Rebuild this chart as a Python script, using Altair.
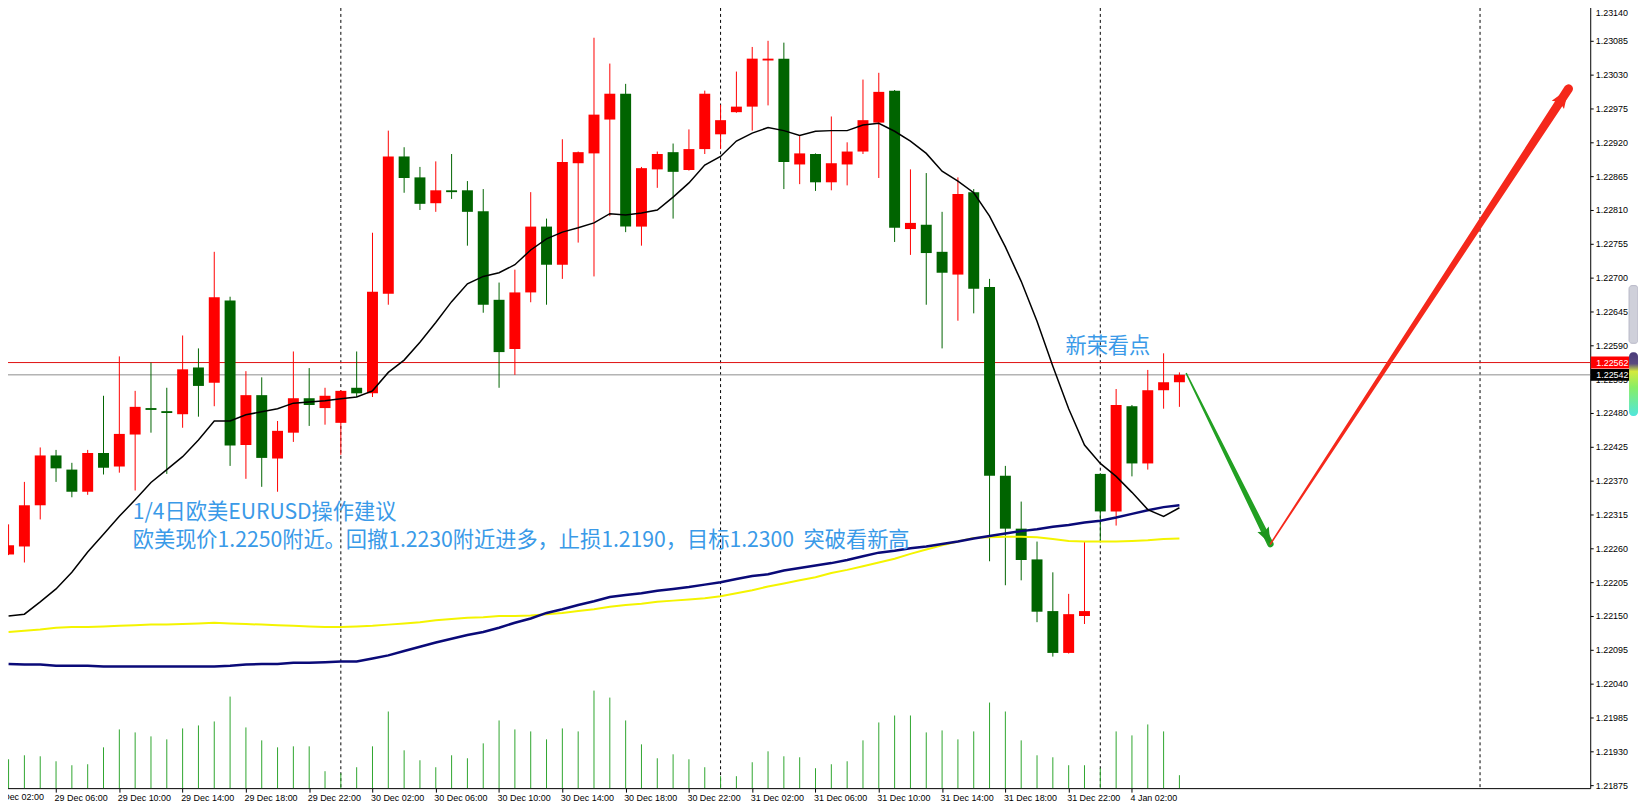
import json
import altair as alt
import pandas as pd

# ---------------- data (bar 0 = 29 Dec 03:00, hourly; bar 69 = 4 Jan 00:00) ----------------
bars = list(range(75))
opens = [1.22250, 1.22263, 1.22330, 1.22411, 1.22388, 1.22352, 1.22415, 1.22393, 1.22445, 1.22488,
         1.22483, 1.22478, 1.22554, 1.22529, 1.22663, 1.22428, 1.22509, 1.22406, 1.22448, 1.22504,
         1.22488, 1.22464, 1.22521, 1.22512, 1.22674, 1.22897, 1.22863, 1.22821, 1.22842, 1.22842,
         1.22808, 1.22664, 1.22584, 1.22676, 1.22783, 1.22721, 1.22886, 1.22902, 1.22957, 1.22999,
         1.22783, 1.22876, 1.22904, 1.22875, 1.22909, 1.22933, 1.22969, 1.22978, 1.23053, 1.23056,
         1.22884, 1.22901, 1.22855, 1.22884, 1.22905, 1.22952, 1.23004, 1.22779, 1.22786, 1.22742,
         1.22705, 1.22839, 1.22685, 1.22378, 1.22292, 1.22242, 1.22158, 1.22090, 1.22150, 1.22381,
         1.22320, 1.22491, 1.22398, 1.22517, 1.22530]
highs = [1.22299, 1.22368, 1.22424, 1.22420, 1.22399, 1.22420, 1.22508, 1.22572, 1.22516, 1.22562,
         1.22521, 1.22606, 1.22585, 1.22742, 1.22669, 1.22548, 1.22538, 1.22467, 1.22580, 1.22553,
         1.22521, 1.22517, 1.22580, 1.22773, 1.22939, 1.22912, 1.22880, 1.22889, 1.22901, 1.22857,
         1.22844, 1.22692, 1.22713, 1.22839, 1.22796, 1.22925, 1.22905, 1.23090, 1.23048, 1.23015,
         1.22880, 1.22905, 1.22918, 1.22941, 1.23004, 1.22981, 1.23035, 1.23075, 1.23085, 1.23082,
         1.22930, 1.22902, 1.22962, 1.22920, 1.23022, 1.23033, 1.23005, 1.22876, 1.22870, 1.22807,
         1.22863, 1.22844, 1.22698, 1.22394, 1.22336, 1.22271, 1.22221, 1.22186, 1.22271, 1.22382,
         1.22519, 1.22493, 1.22550, 1.22577, 1.22546]
lows = [1.22249, 1.22237, 1.22307, 1.22368, 1.22343, 1.22347, 1.22380, 1.22383, 1.22354, 1.22448,
        1.22381, 1.22456, 1.22474, 1.22491, 1.22394, 1.22373, 1.22360, 1.22352, 1.22433, 1.22459,
        1.22461, 1.22412, 1.22506, 1.22506, 1.22656, 1.22838, 1.22810, 1.22807, 1.22828, 1.22752,
        1.22643, 1.22521, 1.22542, 1.22660, 1.22656, 1.22698, 1.22757, 1.22702, 1.22800, 1.22774,
        1.22752, 1.22846, 1.22796, 1.22874, 1.22901, 1.22909, 1.22968, 1.22939, 1.22980, 1.22844,
        1.22852, 1.22841, 1.22842, 1.22850, 1.22901, 1.22862, 1.22758, 1.22737, 1.22656, 1.22585,
        1.22630, 1.22642, 1.22239, 1.22200, 1.22208, 1.22140, 1.22084, 1.22089, 1.22137, 1.22270,
        1.22297, 1.22377, 1.22388, 1.22487, 1.22490]
closes = [1.22265, 1.22330, 1.22411, 1.22390, 1.22352, 1.22415, 1.22391, 1.22446, 1.22490, 1.22485,
          1.22480, 1.22551, 1.22524, 1.22668, 1.22427, 1.22509, 1.22407, 1.22451, 1.22504, 1.22493,
          1.22508, 1.22516, 1.22512, 1.22677, 1.22897, 1.22862, 1.22820, 1.22842, 1.22839, 1.22807,
          1.22656, 1.22579, 1.22676, 1.22783, 1.22721, 1.22888, 1.22904, 1.22965, 1.22999, 1.22783,
          1.22878, 1.22901, 1.22872, 1.22909, 1.22999, 1.22956, 1.22978, 1.23056, 1.23056, 1.22888,
          1.22902, 1.22855, 1.22886, 1.22905, 1.22956, 1.23002, 1.22781, 1.22789, 1.22740, 1.22708,
          1.22836, 1.22682, 1.22378, 1.22292, 1.22241, 1.22157, 1.22090, 1.22153, 1.22158, 1.22320,
          1.22493, 1.22398, 1.22517, 1.22530, 1.22542]
volumes = [725, 825, 800, 675, 575, 600, 1025, 1475, 1400, 1300,
           1225, 1500, 1575, 1675, 2300, 1525, 1200, 1025, 1050, 1050,
           425, 375, 525, 1050, 1925, 950, 700, 525, 825, 750,
           1125, 1700, 1475, 1425, 1225, 1500, 1425, 2450, 2275, 1700,
           1100, 750, 850, 725, 525, 300, 300, 650, 925, 800,
           775, 500, 600, 675, 1200, 1650, 1825, 1825, 1400, 1450,
           1225, 1425, 2150, 1925, 1200, 825, 775, 575, 575, 500,
           1425, 1325, 1600, 1425, 325]
ma_fast = [1.22150, 1.22153, 1.22173, 1.22194, 1.22221, 1.22254, 1.22283, 1.22312, 1.22339, 1.22367,
           1.22388, 1.22409, 1.22436, 1.22467, 1.22467, 1.22477, 1.22482, 1.22487, 1.22496, 1.22498,
           1.22500, 1.22503, 1.22506, 1.22516, 1.22546, 1.22566, 1.22595, 1.22627, 1.22661, 1.22690,
           1.22702, 1.22708, 1.22721, 1.22745, 1.22763, 1.22774, 1.22781, 1.22789, 1.22804, 1.22802,
           1.22805, 1.22810, 1.22831, 1.22854, 1.22883, 1.22897, 1.22922, 1.22935, 1.22944, 1.22939,
           1.22931, 1.22938, 1.22939, 1.22939, 1.22948, 1.22951, 1.22938, 1.22922, 1.22902, 1.22873,
           1.22857, 1.22838, 1.22800, 1.22750, 1.22694, 1.22629, 1.22556, 1.22487, 1.22428, 1.22398,
           1.22377, 1.22351, 1.22323, 1.22312, 1.22326]
ma_navy = [1.22072, 1.22071, 1.22071, 1.22069, 1.22069, 1.22069, 1.22068, 1.22068, 1.22068, 1.22068,
           1.22068, 1.22068, 1.22068, 1.22068, 1.22069, 1.22071, 1.22072, 1.22072, 1.22074, 1.22074,
           1.22075, 1.22076, 1.22076, 1.22081, 1.22086, 1.22093, 1.22100, 1.22107, 1.22113, 1.22119,
           1.22124, 1.22131, 1.22139, 1.22146, 1.22155, 1.22161, 1.22168, 1.22174, 1.22181, 1.22184,
           1.22187, 1.22191, 1.22194, 1.22197, 1.22201, 1.22205, 1.22210, 1.22215, 1.22218, 1.22224,
           1.22228, 1.22232, 1.22236, 1.22241, 1.22247, 1.22253, 1.22256, 1.22260, 1.22263, 1.22267,
           1.22271, 1.22276, 1.22280, 1.22284, 1.22288, 1.22291, 1.22295, 1.22298, 1.22302, 1.22305,
           1.22310, 1.22316, 1.22322, 1.22327, 1.22330]
ma_yellow = [1.22124, 1.22126, 1.22128, 1.22131, 1.22132, 1.22132, 1.22133, 1.22134, 1.22135, 1.22136,
             1.22136, 1.22137, 1.22138, 1.22139, 1.22138, 1.22137, 1.22136, 1.22135, 1.22134, 1.22133,
             1.22132, 1.22132, 1.22133, 1.22134, 1.22136, 1.22138, 1.22140, 1.22143, 1.22145, 1.22147,
             1.22148, 1.22150, 1.22150, 1.22151, 1.22153, 1.22155, 1.22158, 1.22161, 1.22165, 1.22168,
             1.22170, 1.22173, 1.22175, 1.22177, 1.22179, 1.22182, 1.22187, 1.22192, 1.22198, 1.22203,
             1.22208, 1.22213, 1.22220, 1.22225, 1.22231, 1.22237, 1.22243, 1.22251, 1.22258, 1.22265,
             1.22271, 1.22277, 1.22278, 1.22279, 1.22279, 1.22278, 1.22275, 1.22272, 1.22271, 1.22271,
             1.22271, 1.22272, 1.22273, 1.22275, 1.22276]

time_label_bars = [-1, 3, 7, 11, 15, 19, 23, 27, 31, 35, 39, 43, 47, 51, 55, 59, 63, 67, 71]
time_labels = ["29 Dec 02:00", "29 Dec 06:00", "29 Dec 10:00", "29 Dec 14:00", "29 Dec 18:00",
               "29 Dec 22:00", "30 Dec 02:00", "30 Dec 06:00", "30 Dec 10:00", "30 Dec 14:00",
               "30 Dec 18:00", "30 Dec 22:00", "31 Dec 02:00", "31 Dec 06:00", "31 Dec 10:00",
               "31 Dec 14:00", "31 Dec 18:00", "31 Dec 22:00", "4 Jan 02:00"]
day_separator_bars = [21, 45, 69, 93]
price_ticks = [1.21875, 1.21930, 1.21985, 1.22040, 1.22095, 1.22150, 1.22205, 1.22260, 1.22315,
               1.22370, 1.22425, 1.22480, 1.22535, 1.22590, 1.22645, 1.22700, 1.22755, 1.22810,
               1.22865, 1.22920, 1.22975, 1.23030, 1.23085, 1.23140]
ask_price = 1.22562
bid_price = 1.22542

green_arrow_bars = [74.44, 79.75]
green_arrow_prices = [1.22544, 1.22267]
red_arrow_bars = [79.75, 98.59]
red_arrow_prices = [1.22267, 1.23007]

notes = ["1/4日欧美EURUSD操作建议",
         "欧美现价1.2250附近。回撤1.2230附近进多，止损1.2190，目标1.2300\u00a0\u00a0突破看新高",
         "新荣看点"]
note_bars = [7.85, 7.85, 66.8]
note_prices = [1.22317, 1.22272, 1.22587]

# ---------------- tables ----------------
df = pd.DataFrame({"i": bars, "open": opens, "high": highs, "low": lows, "close": closes,
                   "vol": volumes, "ma_fast": ma_fast, "ma_navy": ma_navy, "ma_yellow": ma_yellow})
df["dir"] = ["up" if c >= o else "down" for o, c in zip(opens, closes)]
sep_df = pd.DataFrame({"i": day_separator_bars})
lines_df = pd.DataFrame({"p": [ask_price, bid_price], "kind": ["ask", "bid"]})
green_df = pd.DataFrame({"i": green_arrow_bars, "p": green_arrow_prices, "t": [0, 1]})
red_df = pd.DataFrame({"i": red_arrow_bars, "p": red_arrow_prices, "t": [0, 1]})
notes_df = pd.DataFrame({"i": note_bars, "p": note_prices, "text": notes})
first_label_df = pd.DataFrame({"i": time_label_bars[:1], "text": time_labels[:1]})

W, H = 1598, 790
AXFONT = "Liberation Sans"
xs = alt.Scale(domain=[-0.225, 99.65], nice=False, zero=False)
PDOM = [1.218702, 1.231481]

label_expr = json.dumps(time_labels) + "[(datum.value + 1) / 4]"
x_axis = alt.Axis(values=time_label_bars, labelExpr=label_expr, labelAlign="left",
                  labelBaseline="top", labelFlush=False, labelOverlap=False, labelBound=False,
                  tickSize=4, labelPadding=1, labelOffset=-2, labelFont=AXFONT, labelFontSize=9,
                  labelColor="black", tickColor="black", domainColor="black", grid=False,
                  title=None)
y_axis = alt.Axis(orient="right", values=price_ticks, format=".5f", labelFont=AXFONT,
                  labelFontSize=9, labelColor="black", tickColor="black", domainColor="black",
                  tickSize=3, labelPadding=2, grid=False, title=None, labelOverlap=False,
                  labelFlush=False,
                  labelBaseline={"condition": {"test": "datum.value > 1.2313", "value": "top"},
                                 "value": "middle"},
                  labelOffset={"condition": {"test": "datum.value > 1.2313", "value": 2},
                               "value": 0})


def X(field="i"):
    return alt.X(field, type="quantitative", scale=xs, axis=x_axis)


def Y(field, axis=None):
    return alt.Y(field, type="quantitative",
                 scale=alt.Scale(domain=PDOM, nice=False, zero=False), axis=axis)


dircolor = alt.Color("dir:N", scale=alt.Scale(domain=["up", "down"], range=["#ff0000", "#006400"]),
                     legend=None)

sep = alt.Chart(sep_df).mark_rule(color="black", strokeDash=[3, 3], strokeWidth=1).encode(x=X())

hlines = alt.Chart(lines_df).mark_rule(strokeWidth=1).encode(
    y=Y("p"),
    color=alt.Color("kind:N", scale=alt.Scale(domain=["ask", "bid"], range=["#e01010", "#8c8c8c"]),
                    legend=None))

vol = alt.Chart(df).mark_rule(color="#2ea52e", strokeWidth=1).encode(
    x=X(),
    y=alt.Y("vol:Q", scale=alt.Scale(domain=[0, 19750], nice=False), axis=None),
    y2=alt.datum(0))

wicks = alt.Chart(df).mark_rule(strokeWidth=1).encode(x=X(), y=Y("low"), y2="high", color=dircolor)
bodies = alt.Chart(df).mark_bar(size=11).encode(x=X(), y=Y("open", y_axis), y2="close", color=dircolor)

yellow = alt.Chart(df).mark_line(color="#f4f400", strokeWidth=2).encode(x=X(), y=Y("ma_yellow"))
navy = alt.Chart(df).mark_line(color="#0a0a78", strokeWidth=2.5).encode(x=X(), y=Y("ma_navy"))
black = alt.Chart(df).mark_line(color="#000000", strokeWidth=1.5).encode(x=X(), y=Y("ma_fast"))

head_path = "M0,0L0.65,1.7L0,1.4L-0.65,1.7Z"
g_trail = alt.Chart(green_df).mark_trail(color="#22a022").encode(
    x=X(), y=Y("p"), order="t:Q",
    size=alt.Size("t:Q", scale=alt.Scale(domain=[0, 1], range=[1.5, 6.5]), legend=None))
g_head = alt.Chart(green_df).transform_filter("datum.t == 1").mark_point(
    shape=head_path, filled=True, size=380, angle=153.7, color="#1c941c", opacity=1).encode(
    x=X(), y=Y("p"))
r_trail = alt.Chart(red_df).mark_trail(color="#f5281b").encode(
    x=X(), y=Y("p"), order="t:Q",
    size=alt.Size("t:Q", scale=alt.Scale(domain=[0, 1], range=[1.5, 9]), legend=None))
r_head = alt.Chart(red_df).transform_filter("datum.t == 1").mark_point(
    shape=head_path, filled=True, size=520, angle=33.5, color="#f5281b", opacity=1).encode(
    x=X(), y=Y("p"))

texts = alt.Chart(notes_df).mark_text(align="left", baseline="middle", font="Noto Sans CJK SC",
                                      fontSize=21.3, color="#3a9ae8").encode(
    x=X(), y=Y("p"), text="text:N")

first_label = alt.Chart(first_label_df).mark_text(
    align="left", baseline="top", font=AXFONT, fontSize=9, color="black", dx=-2).encode(
    x=X(), y=alt.value(H + 5), text="text:N")

box_path = "M-1,-0.2857H1V0.2857H-1Z"
boxes = alt.Chart(lines_df).mark_point(shape=box_path, filled=True, size=1764, opacity=1).encode(
    x=alt.value(W + 21.5), y=Y("p"),
    color=alt.Color("kind:N", scale=alt.Scale(domain=["ask", "bid"], range=["#ff0000", "#000000"]),
                    legend=None))
box_text = alt.Chart(lines_df).mark_text(align="left", baseline="middle", font=AXFONT,
                                         fontSize=9, color="white").encode(
    x=alt.value(W + 6), y=Y("p"), text=alt.Text("p:Q", format=".5f"))

strip_df = pd.DataFrame({"k": [0]})
scroll = alt.Chart(strip_df).mark_rect(color="#cfd0da", cornerRadius=3, stroke="#b8b8c8").encode(
    x=alt.value(1637), x2=alt.value(1646), y=alt.value(285), y2=alt.value(343))
grad = alt.Gradient(gradient="linear", x1=0, x2=0, y1=0, y2=1,
                    stops=[alt.GradientStop(color="#4a3c7a", offset=0),
                           alt.GradientStop(color="#5a4a80", offset=0.18),
                           alt.GradientStop(color="#d4ea3c", offset=0.3),
                           alt.GradientStop(color="#88ee66", offset=0.55),
                           alt.GradientStop(color="#50e6dc", offset=1)])
meter = alt.Chart(strip_df).mark_rect(color=grad, cornerRadius=4).encode(
    x=alt.value(1637), x2=alt.value(1646), y=alt.value(352), y2=alt.value(416))

chart = alt.layer(
    sep, hlines, vol, wicks, bodies, yellow, navy, black,
    g_trail, g_head, r_trail, r_head, texts, first_label, boxes, box_text, scroll, meter
).resolve_scale(y="independent", color="independent", size="independent").properties(
    width=W, height=H, autosize=alt.AutoSizeParams(type="none"),
    padding={"left": -8, "top": -8, "right": 48, "bottom": 18},
    background="white"
).configure_view(stroke=None)

chart.save("out.html", embed_options={"renderer": "svg", "actions": False})
